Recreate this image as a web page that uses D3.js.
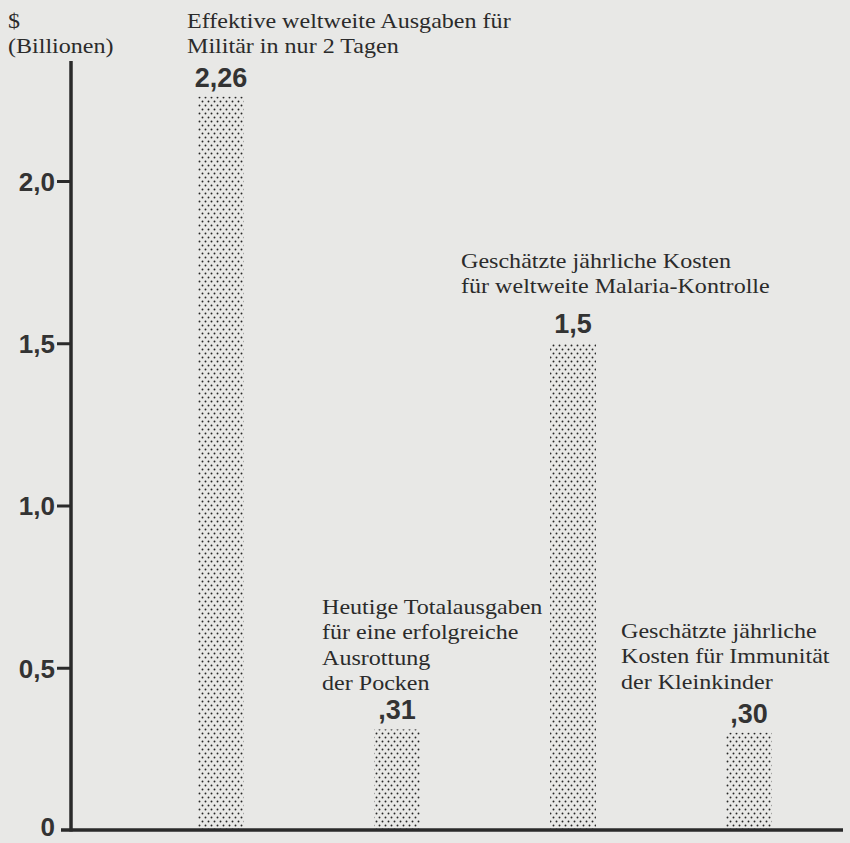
<!DOCTYPE html>
<html lang="de">
<head>
<meta charset="UTF-8" />
<title>Militär vs. Gesundheit</title>
<script src="https://d3js.org/d3.v7.min.js"></script>
<style>
  body { margin: 0; background: #e8e8e6; }
  svg { display: block; }
  .note { font-family: 'Liberation Serif', 'Times New Roman', serif; font-size: 21.5px; fill: #2b2b2b; }
  .val { font-family: 'Liberation Sans', Arial, sans-serif; font-weight: bold; font-size: 27px; fill: #333; }
  .tick-label { font-family: 'Liberation Sans', Arial, sans-serif; font-weight: bold; font-size: 26px; fill: #333; }
</style>
</head>
<body>
<svg id="chart" width="850" height="843"></svg>
<script>
// data
const values = [2.26, 0.31, 1.5, 0.30];
const valueLabels = ["2,26", ",31", "1,5", ",30"];
const notes = [
  ["Effektive weltweite Ausgaben für", "Militär in nur 2 Tagen"],
  ["Heutige Totalausgaben", "für eine erfolgreiche", "Ausrottung", "der Pocken"],
  ["Geschätzte jährliche Kosten", "für weltweite Malaria-Kontrolle"],
  ["Geschätzte jährliche", "Kosten für Immunität", "der Kleinkinder"]
];
const tickValues = [0, 0.5, 1.0, 1.5, 2.0];
const tickLabels = ["0", "0,5", "1,0", "1,5", "2,0"];
const unitLines = ["$", "(Billionen)"];

const svg = d3.select("#chart");
const axisX = 71, zeroY = 830;
const stretch = 1.12;   // the old typeface runs wider than Times

const x = d3.scaleBand().domain(d3.range(values.length)).range([198, 772]).paddingInner(0.739).paddingOuter(0);
const y = d3.scaleLinear().domain([0, 2.0]).range([zeroY, 181]);

// stipple pattern
const pat = svg.append("defs").append("pattern")
  .attr("id", "dots").attr("patternUnits", "userSpaceOnUse")
  .attr("width", 6).attr("height", 8);
pat.append("circle").attr("cx", 1.5).attr("cy", 1.5).attr("r", 0.95).attr("fill", "#262626");
pat.append("circle").attr("cx", 4.5).attr("cy", 5.5).attr("r", 0.95).attr("fill", "#262626");

// bars
svg.append("g").selectAll("rect").data(values).join("rect")
  .attr("x", (d, i) => x(i))
  .attr("width", x.bandwidth())
  .attr("y", d => y(d))
  .attr("height", d => y(0) - y(d))
  .attr("fill", "url(#dots)");

// value labels
svg.append("g").selectAll("text").data(values).join("text")
  .attr("class", "val")
  .attr("x", (d, i) => x(i) + x.bandwidth() / 2)
  .attr("y", d => y(d) - 10)
  .attr("text-anchor", "middle")
  .text((d, i) => valueLabels[i]);

// annotation blocks
const noteX = [187, 322, 461, 621];
const noteY = [28, 614, 268, 638];
function block(lines, x0, y0) {
  svg.append("g").attr("transform", `translate(${x0},0) scale(${stretch},1)`)
    .append("text").attr("class", "note")
    .selectAll("tspan").data(lines).join("tspan")
    .attr("x", 0)
    .attr("y", (d, j) => y0 + j * 25.5)
    .text(d => d);
}
notes.forEach((lines, i) => block(lines, noteX[i], noteY[i]));
block(unitLines, 8, 28);

// axes
const yAxis = d3.axisLeft(y).tickValues(tickValues).tickFormat((d, i) => tickLabels[i])
  .tickSize(14).tickPadding(2);
const ya = svg.append("g").attr("transform", `translate(${axisX},0)`).call(yAxis);
ya.select(".domain").remove();
ya.selectAll(".tick line").attr("stroke", "#2a2a2a").attr("stroke-width", 3);
ya.selectAll(".tick text").attr("class", "tick-label").attr("dy", "0.36em");
const zeroTick = ya.selectAll(".tick").filter(d => d === 0);
zeroTick.select("line").remove();
zeroTick.select("text").attr("dy", "0.2em");

svg.append("line").attr("x1", axisX).attr("x2", axisX).attr("y1", 61).attr("y2", zeroY + 1.5)
  .attr("stroke", "#2a2a2a").attr("stroke-width", 3.5);
svg.append("line").attr("x1", axisX - 10).attr("x2", 843).attr("y1", zeroY).attr("y2", zeroY)
  .attr("stroke", "#2a2a2a").attr("stroke-width", 3.5);
</script>
</body>
</html>
